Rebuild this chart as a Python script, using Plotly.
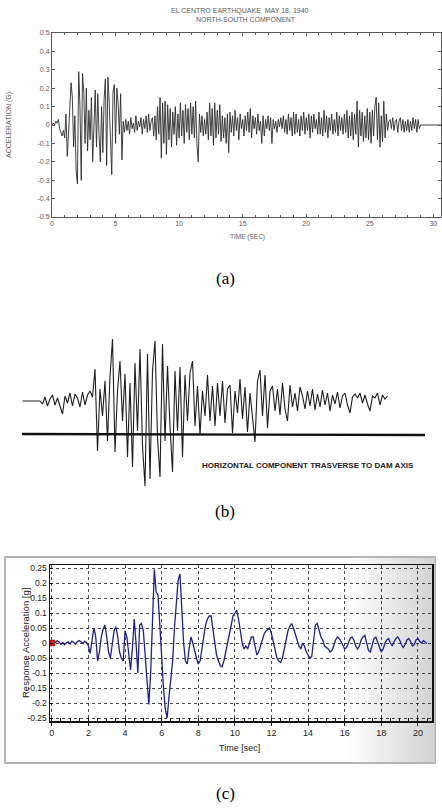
import plotly.graph_objects as go

W, H = 442, 809


def px(x):
    return x / W


def py(y):
    return 1 - y / H


# ---------------- (a) El Centro N-S accelerogram ----------------
A_DT = 0.1
A_ACC = [
    0.00, 0.01, 0.00, 0.02, 0.01, 0.03, -0.02, -0.04, -0.06, -0.03,
    -0.07, 0.06, -0.17, -0.05, 0.12, 0.23, 0.15, -0.12, 0.05, -0.25,
    -0.32, 0.29, 0.10, -0.30, 0.28, 0.18, -0.10, 0.20, -0.14, 0.08,
    -0.08, 0.15, -0.20, 0.05, 0.19, -0.12, 0.17, -0.05, -0.20, 0.10,
    -0.15, 0.14, 0.25, -0.22, 0.26, 0.12, -0.12, -0.27, 0.18, 0.22,
    -0.10, 0.20, 0.12, -0.05, 0.17, -0.19, 0.02, -0.04, 0.03, -0.03,
    0.02, -0.05, 0.04, -0.02, 0.01, -0.04, 0.05, -0.03, 0.02, -0.01,
    0.04, -0.05, 0.03, -0.02, 0.05, -0.04, 0.06, -0.03, 0.02, 0.04,
    -0.06, 0.05, -0.08, 0.10, -0.05, 0.15, -0.18, 0.12, -0.10, 0.13,
    -0.16, 0.11, -0.08, 0.09, -0.12, 0.07, -0.05, 0.10, -0.11, 0.06,
    -0.07, 0.12, -0.06, 0.08, -0.10, 0.11, -0.04, 0.09, -0.08, 0.12,
    -0.05, 0.10, -0.07, 0.13, -0.10, -0.20, 0.06, -0.04, 0.05, -0.06,
    0.03, -0.05, 0.07, -0.08, 0.12, -0.06, 0.09, -0.11, 0.12, -0.07,
    0.08, -0.05, 0.11, -0.09, 0.05, -0.07, 0.04, -0.10, 0.06, -0.15,
    0.07, -0.04, 0.05, -0.06, 0.08, -0.03, 0.04, -0.08, 0.06, -0.02,
    0.03, -0.06, 0.05, -0.03, 0.07, -0.04, 0.09, -0.07, 0.05, -0.02,
    0.04, -0.05, 0.06, -0.03, 0.02, -0.10, 0.05, -0.06, 0.03, -0.02,
    0.05, -0.03, 0.04, -0.10, 0.03, -0.02, 0.02, -0.04, 0.03, -0.01,
    0.04, -0.02, 0.05, -0.04, 0.03, -0.05, 0.06, -0.03, 0.04, -0.06,
    0.07, -0.05, 0.06, -0.04, 0.03, -0.06, 0.05, -0.03, 0.07, -0.05,
    0.04, -0.03, 0.06, -0.07, 0.05, -0.04, 0.06, -0.02, 0.03, -0.05,
    0.07, -0.05, 0.04, -0.06, 0.08, -0.04, 0.05, -0.07, 0.04, -0.03,
    0.06, -0.05, 0.03, -0.04, 0.07, -0.06, 0.05, -0.03, 0.04, -0.05,
    0.06, -0.04, 0.08, -0.07, 0.05, -0.06, 0.07, -0.08, 0.06, -0.05,
    0.13, -0.12, 0.08, -0.06, 0.07, -0.09, 0.05, -0.07, 0.09, -0.08,
    0.07, -0.10, 0.08, -0.06, 0.10, 0.15, -0.08, 0.12, -0.12, 0.05,
    -0.09, 0.13, -0.07, 0.06, -0.03, 0.02, 0.03, -0.02, 0.04, -0.03,
    0.02, 0.03, -0.04, 0.02, 0.04, -0.03, 0.03, -0.04, 0.02, -0.03,
    0.03, -0.04, 0.02, -0.03, 0.04, -0.02, 0.03, -0.04, 0.03, -0.02,
    0.00,
]
A_END_T = 30.6
A_END_ACC = 0.0
A_XTICKS = [0, 5, 10, 15, 20, 25, 30]
A_YTICKS = [0.5, 0.4, 0.3, 0.2, 0.1, 0.0, -0.1, -0.2, -0.3, -0.4, -0.5]
A_YTICKTEXT = ["0.5", "0.4", "0.3", "0.2", "0.1", "0",
               "-0.1", "-0.2", "-0.3", "-0.4", "-0.5"]

# ---------------- (b) dam record (arbitrary units) ----------------
B_START = 22.5
B_STEP = 2.5
B_TRACE = [
    0, 0, 0, 0, 0, 0, 0,
    0, -3, 4, -5, 2, 6, -4, 3, -6, -13,
    5, -2, 8, -5, 7, 3, -6, 9, -4, 6,
    10, 4, 32, -50, 12, -15, 20, -40, 24, 62,
    -51, 10, 40, -20, 27, -56, 18, -66, 38, -30,
    52, -45, -85, 47, -78, 30, 60, -36, -76, 57,
    -40, 35, -25, -71, 30, -30, 34, -56, 26, -20,
    28, 40, -25, 15, -34, 10, -15, 26, -20, 15,
    -25, 18, -15, 20, -22, 12, 16, -32, 10, -12,
    22, -18, 14, -31, 8, -14, -41, 20, 31, -15,
    26, -27, 10, 15, -10, 12, -14, 18, -8, -20,
    16, -6, 8, -10, 14, 5, -8, 10, -5, 12,
    -9, 7, -6, 11, -4, 8, -10, 6, -3, 9,
    -7, 5, 8, -4, -12, 4, 7, 3, 8, -2,
    6, -3, -10, 5, 3, 8, -4, 6, 2, 5,
]
B_BASE_X = [22, 425]
B_BASE_Y = [-33, -34]

# ---------------- (c) response acceleration ----------------
C_DT = 0.1
C_ACC = [
    0.000, 0.005, 0.002, 0.008, 0.003, -0.004, 0.002, -0.006, 0.001, 0.004,
    -0.003, 0.006, 0.002, -0.004, 0.005, 0.008, 0.003, -0.002, 0.006, 0.001,
    -0.010, -0.035, 0.010, 0.050, 0.020, -0.060, -0.030, 0.020, 0.045, 0.060,
    0.020, -0.030, -0.050, 0.000, 0.040, 0.055, 0.020, -0.030, -0.050, -0.060,
    0.040, 0.020, -0.040, -0.090, -0.020, 0.080, 0.000, -0.100, 0.060, 0.065,
    0.040, -0.050, -0.150, -0.205, -0.100, 0.100, 0.245, 0.170, 0.160, 0.060,
    -0.050, -0.150, -0.220, -0.250, -0.180, -0.130, -0.060, 0.050, 0.150, 0.210,
    0.230, 0.120, 0.000, -0.060, -0.070, -0.020, 0.020, 0.000, -0.030, -0.050,
    -0.070, -0.060, -0.020, 0.030, 0.060, 0.080, 0.090, 0.090, 0.050, 0.000,
    -0.040, -0.060, -0.075, -0.080, -0.060, -0.030, 0.000, 0.040, 0.060, 0.090,
    0.100, 0.110, 0.080, 0.030, 0.000, -0.020, -0.010, -0.020, 0.005, 0.020,
    0.020, -0.010, -0.040, -0.030, -0.010, 0.010, 0.030, 0.040, 0.045, 0.050,
    0.030, 0.000, -0.030, -0.050, -0.060, -0.065, -0.050, -0.020, 0.010, 0.040,
    0.055, 0.065, 0.050, 0.030, 0.005, -0.010, -0.020, 0.000, -0.010, -0.030,
    -0.040, -0.050, -0.045, 0.010, 0.060, 0.065, 0.040, 0.020, 0.010, -0.010,
    -0.015, -0.020, -0.030, -0.025, -0.010, 0.010, 0.020, 0.015, 0.005, -0.010,
    -0.020, -0.015, 0.000, 0.015, 0.020, 0.010, -0.010, -0.020, -0.010, 0.010,
    0.020, 0.025, 0.000, -0.025, -0.030, -0.010, 0.015, 0.020, 0.005, -0.015,
    -0.030, -0.020, 0.000, 0.010, 0.015, 0.000, -0.010, 0.005, 0.015, 0.020,
    0.010, -0.005, -0.015, -0.005, 0.010, 0.015, 0.005, -0.010, -0.005, 0.010,
    0.015, 0.005, 0.000, 0.008, 0.002, -0.002,
]
C_START_POINT = (0.0, 0.0)
C_XTICKS = [0, 2, 4, 6, 8, 10, 12, 14, 16, 18, 20]
C_YTICKS = [0.25, 0.2, 0.15, 0.1, 0.05, 0.0, -0.05, -0.1, -0.15, -0.2, -0.25]
C_YTICKTEXT = ["0.25", "0.2", "0.15", "0.1", "0.05", "0",
               "-0.05", "-0.1", "-0.15", "-0.2", "-0.25"]

# ---------------------------------------------------------------
a_t = [i * A_DT for i in range(len(A_ACC))] + [A_END_T]
a_v = A_ACC + [A_END_ACC]
b_x = [B_START + i * B_STEP for i in range(len(B_TRACE))]
c_t = [i * C_DT for i in range(len(C_ACC))]

fig = go.Figure()

fig.add_trace(go.Scatter(x=a_t, y=a_v, mode="lines", xaxis="x", yaxis="y",
                         line=dict(color="#2b2b2b", width=0.9), showlegend=False,
                         hoverinfo="skip"))

fig.add_trace(go.Scatter(x=b_x, y=B_TRACE, mode="lines", xaxis="x2", yaxis="y2",
                         line=dict(color="#1e1e1e", width=1.1), showlegend=False,
                         hoverinfo="skip"))
fig.add_trace(go.Scatter(x=B_BASE_X, y=B_BASE_Y, mode="lines", xaxis="x2", yaxis="y2",
                         line=dict(color="#111", width=2.4), showlegend=False,
                         hoverinfo="skip"))

fig.add_trace(go.Scatter(x=c_t, y=C_ACC, mode="lines", xaxis="x3", yaxis="y3",
                         line=dict(color="#1f1f8f", width=1.3), showlegend=False,
                         hoverinfo="skip"))
fig.add_trace(go.Scatter(x=[C_START_POINT[0]], y=[C_START_POINT[1]], mode="markers",
                         xaxis="x3", yaxis="y3",
                         marker=dict(color="#e01010", size=6, symbol="square",
                                     line=dict(color="#900", width=0.5)),
                         showlegend=False, hoverinfo="skip"))

sans = "Liberation Sans, Arial, sans-serif"
serif = "Liberation Serif, Times New Roman, serif"
gray = "#5a5a5a"

fig.update_layout(
    template="none",
    width=W, height=H, autosize=False,
    margin=dict(l=0, r=0, t=0, b=0, pad=0),
    paper_bgcolor="white", plot_bgcolor="rgba(0,0,0,0)",
    xaxis=dict(domain=[px(52), px(441)], range=[0, 30.6], anchor="y", automargin=False,
               tickvals=A_XTICKS, ticks="inside", ticklen=3, tickcolor=gray,
               showline=True, linecolor=gray, linewidth=1, mirror="ticks",
               showgrid=False, zeroline=False,
               minor=dict(dtick=1, ticks="inside", ticklen=2, tickcolor=gray, showgrid=False),
               tickfont=dict(family=sans, size=7, color=gray)),
    yaxis=dict(domain=[py(217), py(33)], range=[-0.5, 0.5], anchor="x", automargin=False,
               tickvals=A_YTICKS, ticktext=A_YTICKTEXT, ticks="inside", ticklen=3,
               tickcolor=gray, showline=True, linecolor=gray, linewidth=1,
               mirror="ticks", showgrid=False, zeroline=False,
               tickfont=dict(family=sans, size=7, color=gray)),
    xaxis2=dict(domain=[0, 1], range=[0, W], anchor="y2", visible=False, automargin=False),
    yaxis2=dict(domain=[py(490), py(330)], range=[-89, 71], anchor="x2", visible=False,
                automargin=False),
    xaxis3=dict(domain=[px(50), px(432)], range=[-0.1, 20.77], anchor="y3", automargin=False,
                tickvals=C_XTICKS, ticks="outside", ticklen=3, tickcolor="#111",
                showline=True, linecolor="#111", linewidth=1.5, mirror=True,
                showgrid=True, gridcolor="#222", griddash="3px,3px", gridwidth=0.8,
                zeroline=False,
                minor=dict(dtick=0.5, ticks="inside", ticklen=3, tickcolor="#111",
                           showgrid=False),
                tickfont=dict(family=sans, size=9, color="#222")),
    yaxis3=dict(domain=[py(721), py(565)], range=[-0.26, 0.26], anchor="x3", automargin=False,
                tickvals=C_YTICKS, ticktext=C_YTICKTEXT, ticks="inside", ticklen=3,
                tickcolor="#111", showline=True, linecolor="#111", linewidth=1.5,
                mirror=True, showgrid=True, gridcolor="#222", griddash="3px,3px",
                gridwidth=0.8, zeroline=False,
                tickfont=dict(family=sans, size=8.5, color="#222")),
)

# Panel (c) frame with soft gray gradient on the right
shapes = [dict(type="rect", xref="paper", yref="paper", x0=px(5), x1=px(435),
               y0=py(763), y1=py(557), line=dict(color="#b4b4b4", width=2),
               fillcolor="white", layer="below")]
n_strips = 24
x_left = 350
step = (434 - x_left) / n_strips
for i in range(n_strips):
    g = int(255 - (255 - 212) * (i + 1) / n_strips)
    col = "rgb(%d,%d,%d)" % (g, g, g)
    shapes.append(dict(type="rect", xref="paper", yref="paper",
                       x0=px(x_left + i * step), x1=px(x_left + (i + 1) * step + 0.6),
                       y0=py(762), y1=py(558), line=dict(width=0), fillcolor=col,
                       layer="below"))
fig.update_layout(shapes=shapes)


def ann(text, x, y, size, family=sans, color="black", angle=0, xanchor="center"):
    fig.add_annotation(text=text, x=px(x), y=py(y), xref="paper", yref="paper",
                       showarrow=False, xanchor=xanchor, yanchor="middle",
                       textangle=angle, font=dict(family=family, size=size, color=color))


ann("EL CENTRO EARTHQUAKE  MAY 18, 1940", 240, 11, 7, color=gray)
ann("NORTH-SOUTH COMPONENT", 246, 19, 7, color=gray)
ann("ACCELERATION (G)", 9, 125, 7, color=gray, angle=-90)
ann("TIME (SEC)", 247, 237, 6.5, color=gray)
ann("(a)", 225, 278, 17, family=serif)

ann("<b>HORIZONTAL COMPONENT TRASVERSE TO DAM AXIS</b>", 308, 466, 8, color="#222")
ann("(b)", 225, 512, 17, family=serif)

ann("Response Acceleration [g]", 25, 643, 9.5, color="#222", angle=-90)
ann("Time [sec]", 240, 748, 9, color="#222")
ann("(c)", 225, 793, 17, family=serif)

fig.write_html("out.html",
               config={"displayModeBar": False, "staticPlot": True},
               post_script="document.body.style.margin='0';"
                           "document.body.style.overflow='hidden';")
